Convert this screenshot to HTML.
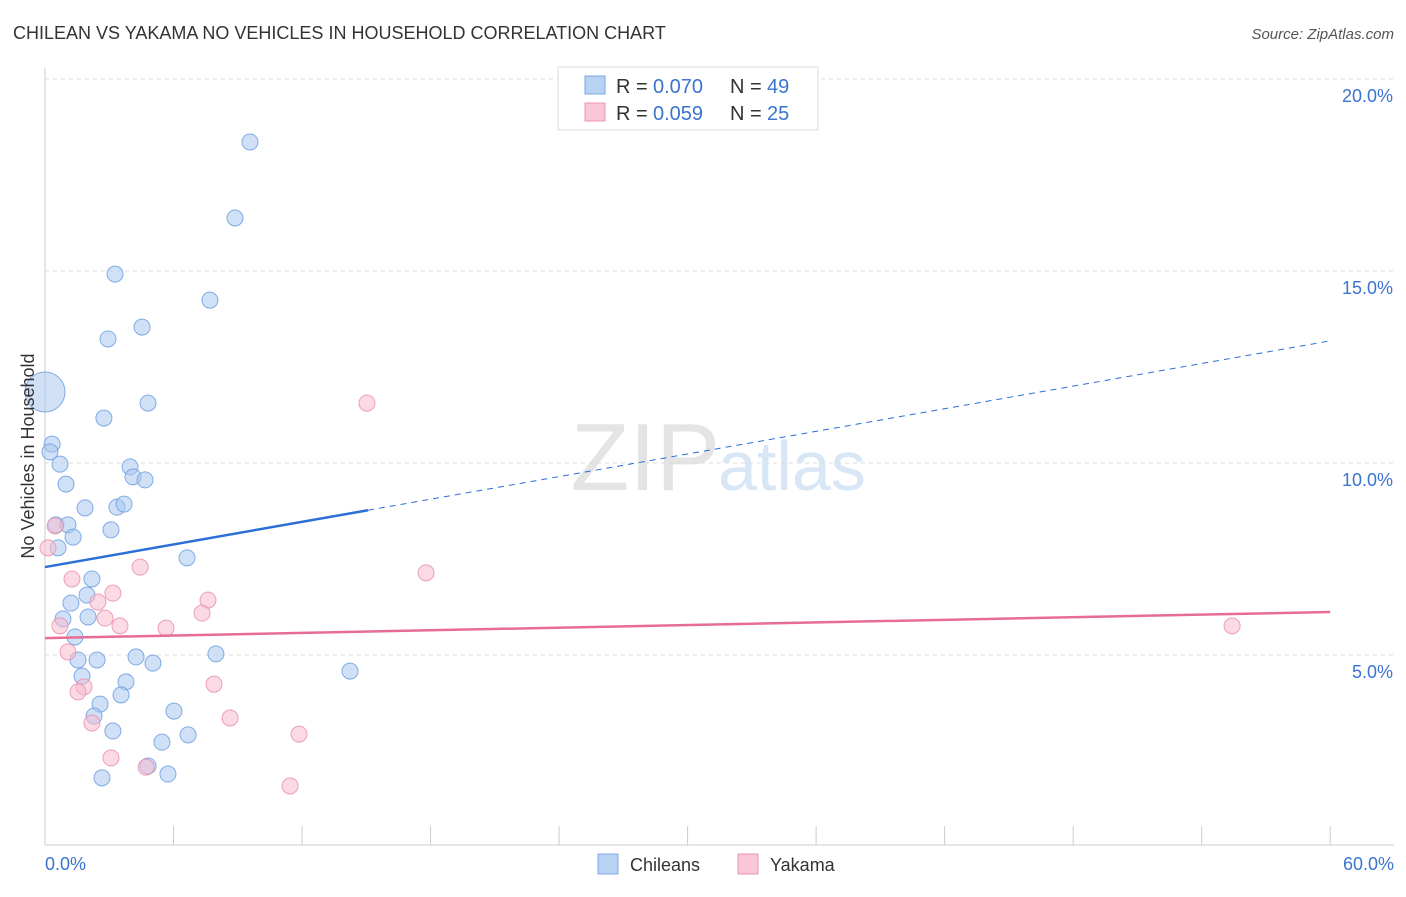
<!DOCTYPE html>
<html><head><meta charset="utf-8"><style>
body{margin:0;background:#fff;font-family:"Liberation Sans",sans-serif;}
svg text{font-family:"Liberation Sans",sans-serif;}
</style></head><body>
<svg id="chart" width="1406" height="892" xmlns="http://www.w3.org/2000/svg">
<text x="13" y="39" font-size="18" fill="#333">CHILEAN VS YAKAMA NO VEHICLES IN HOUSEHOLD CORRELATION CHART</text>
<text x="1394" y="39" font-size="15" fill="#555" font-style="italic" text-anchor="end">Source: ZipAtlas.com</text>
<text x="720" y="490" font-size="96" fill="#e4e4e4" text-anchor="end" font-family="Liberation Serif">ZIP</text>
<text x="718" y="490" font-size="70" fill="#d8e6f6">atlas</text>
<g id="grid"></g><g id="axes"></g><g id="marks"></g>
<text transform="translate(34,456) rotate(-90)" font-size="18" fill="#333" text-anchor="middle">No Vehicles in Household</text>
<g>
<rect x="558" y="67" width="260" height="63" fill="#fff" stroke="#ddd"/>
<rect x="585" y="76" width="20" height="18" fill="#b8d2f4" stroke="#7aa6e2"/>
<text x="616" y="93" font-size="20" fill="#333">R =</text>
<text x="653" y="93" font-size="20" fill="#3a74d0">0.070</text>
<text x="730" y="93" font-size="20" fill="#333">N =</text>
<text x="767" y="93" font-size="20" fill="#3a74d0">49</text>
<rect x="585" y="103" width="20" height="18" fill="#f8c6d4" stroke="#eb97b2"/>
<text x="616" y="120" font-size="20" fill="#333">R =</text>
<text x="653" y="120" font-size="20" fill="#3a74d0">0.059</text>
<text x="730" y="120" font-size="20" fill="#333">N =</text>
<text x="767" y="120" font-size="20" fill="#3a74d0">25</text>
</g>
<g>
<rect x="598" y="854" width="20" height="20" fill="#b8d2f4" stroke="#7aa6e2"/>
<text x="630" y="871" font-size="18" fill="#333">Chileans</text>
<rect x="738" y="854" width="20" height="20" fill="#f8c6d4" stroke="#eb97b2"/>
<text x="770" y="871" font-size="18" fill="#333">Yakama</text>
</g>
</svg>
<script>
const blueX=[9.57,8.87,3.27,7.70,4.53,2.94,4.81,2.75,0.33,0.23,0.70,3.97,4.11,4.67,0.98,1.87,3.36,3.69,0.51,1.07,3.08,1.31,0.61,6.63,2.19,1.21,1.96,2.01,0.84,1.40,1.54,2.43,4.25,5.04,7.98,1.73,3.78,3.55,14.24,2.57,2.29,6.02,3.17,6.68,5.46,4.81,5.74,2.66];
const blueY=[18.36,16.38,14.92,14.24,13.54,13.23,11.56,11.17,10.49,10.29,9.97,9.90,9.64,9.56,9.45,8.83,8.85,8.93,8.39,8.39,8.26,8.07,7.79,7.53,6.98,6.35,6.56,5.99,5.94,5.47,4.87,4.87,4.95,4.79,5.03,4.45,4.30,3.96,4.58,3.72,3.41,3.54,3.02,2.92,2.73,2.11,1.90,1.80];
const bigX=[0.0], bigY=[11.85];
const pinkX=[15.03,17.79,55.42,0.47,0.14,1.26,4.44,3.17,2.47,7.61,7.33,2.80,0.70,3.50,5.65,1.07,1.82,1.54,7.89,8.64,2.19,11.86,3.08,4.72,11.44];
const pinkY=[11.56,7.14,5.76,8.36,7.79,6.98,7.29,6.61,6.38,6.43,6.09,5.96,5.76,5.76,5.70,5.08,4.17,4.04,4.24,3.36,3.23,2.94,2.32,2.08,1.59];
const blueTrend=[7.29,13.18], blueSolidEnd=15.08;
const pinkTrend=[5.44,6.12];
const yTicks=[5,10,15,20];
const xTicks=[0,6,12,18,24,30,36,42,48,54,60];
const NS="http://www.w3.org/2000/svg";
const X=v=>45+v*21.42, Y=v=>847-v*38.4;
function mk(tag,attrs,parent){const e=document.createElementNS(NS,tag);for(const k in attrs)e.setAttribute(k,attrs[k]);document.getElementById(parent).appendChild(e);return e;}
yTicks.forEach(t=>{
 const l=mk('line',{x1:45,x2:1394,y1:Y(t),y2:Y(t),stroke:'#ddd','stroke-dasharray':'4,4'},'grid');
 
 
 const tx=mk('text',{x:1393,y:Y(t)+23,'font-size':18,fill:'#3a74d0','text-anchor':'end'},'axes');tx.textContent=t.toFixed(1)+'%';
 
 
});
const ax=mk('line',{x1:45,x2:45,y1:68,y2:845,stroke:'#ccc'},'axes');


const bx=mk('line',{x1:45,x2:1394,y1:845,y2:845,stroke:'#ccc'},'axes');


xTicks.forEach(t=>{const l=mk('line',{x1:X(t),x2:X(t),y1:826,y2:845,stroke:'#ccc'},'axes');
 
 });
[[0,'start',45],[60,'end',1394]].forEach(([v,a,px])=>{const tx=mk('text',{x:px,y:870,'font-size':18,fill:'#3a74d0','text-anchor':a},'axes');tx.textContent=v.toFixed(1)+'%';
 
 });
function dot(x,y,r,f,s,name){const c=mk('circle',{cx:X(x),cy:Y(y),r:r,fill:f,'fill-opacity':0.55,stroke:s,'stroke-opacity':0.85,'stroke-width':1},'marks');
 
 }
blueX.forEach((x,i)=>dot(x,blueY[i],8,'#a9c8f0','#6f9fe0','chilean-point'));
bigX.forEach((x,i)=>dot(x,bigY[i],20,'#a9c8f0','#6f9fe0','chilean-point-large'));
pinkX.forEach((x,i)=>dot(x,pinkY[i],8,'#f7bccd','#e890ad','yakama-point'));
const bv=x=>blueTrend[0]+(blueTrend[1]-blueTrend[0])*x/60;
let l=mk('line',{x1:X(0),y1:Y(bv(0)),x2:X(blueSolidEnd),y2:Y(bv(blueSolidEnd)),stroke:'#2a6fd6','stroke-width':2.5},'marks');


l=mk('line',{x1:X(blueSolidEnd),y1:Y(bv(blueSolidEnd)),x2:X(60),y2:Y(bv(60)),stroke:'#2a6fd6','stroke-width':1,'stroke-dasharray':'6,5'},'marks');


l=mk('line',{x1:X(0),y1:Y(pinkTrend[0]),x2:X(60),y2:Y(pinkTrend[1]),stroke:'#e66c95','stroke-width':2.5},'marks');


</script>
</body></html>
